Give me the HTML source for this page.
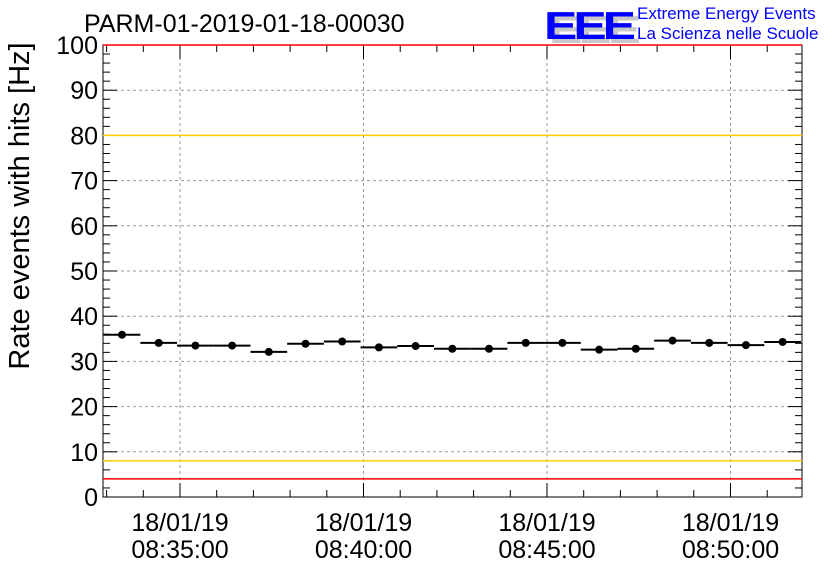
<!DOCTYPE html>
<html><head><meta charset="utf-8"><style>
body{margin:0;background:#fff;}
svg{display:block;font-family:"Liberation Sans",sans-serif;}
</style></head><body>
<svg id="c" width="836" height="572">
<text x="84" y="32" font-size="25">PARM-01-2019-01-18-00030</text>
<g>
<text x="0" y="0" font-size="50" font-weight="bold" fill="#c8c8c8" letter-spacing="-4" transform="translate(549,43) scale(1,0.78)">EEE</text>
<text x="0" y="0" font-size="50" font-weight="bold" fill="#0000ff" letter-spacing="-4" transform="translate(544,39) scale(1,0.78)">EEE</text>
</g>
<text x="637" y="19" font-size="17" fill="#0000ff">Extreme Energy Events</text>
<text x="637" y="39" font-size="17" fill="#0000ff">La Scienza nelle Scuole</text>
<text transform="translate(29,206) rotate(-90)" text-anchor="middle" font-size="29">Rate events with hits [Hz]</text>
<g id="grid"></g><g id="axes"></g><g id="marks"></g>
</svg>
<script>
const yTicks=[0,10,20,30,40,50,60,70,80,90,100];
const xTickMinutes=[0,5,10,15];
const xTickLabels=["08:35:00","08:40:00","08:45:00","08:50:00"];
const xTickDate="18/01/19";
const binStartMin=[-2.08,-1.08,-0.08,0.92,1.92,2.92,3.92,4.92,5.92,6.92,7.92,8.92,9.92,10.92,11.92,12.92,13.92,14.92,15.92];
const rates=[35.9,34.1,33.5,33.5,32.1,33.9,34.4,33.1,33.4,32.8,32.8,34.1,34.1,32.6,32.8,34.6,34.1,33.6,34.3];
const redLines=[100,4];
const yellowLines=[80,8];
const L=103,R=802,T=45,B=497;
const X=m=>180+m*36.7;
const Y=v=>B-(B-T)*v/100;
const NS="http://www.w3.org/2000/svg";
function mk(p,tag,a){const e=document.createElementNS(NS,tag);for(const k in a)e.setAttribute(k,a[k]);p.appendChild(e);return e;}
const grid=document.getElementById('grid'),axes=document.getElementById('axes'),marks=document.getElementById('marks');
yTicks.forEach(v=>{if(v>0&&v<100){const l=mk(grid,'line',{x1:L,x2:R,y1:Y(v),y2:Y(v),stroke:'#999','stroke-dasharray':'3,3'});

}
const t=mk(axes,'text',{x:L-5,y:Y(v)+9,'text-anchor':'end','font-size':25});t.textContent=v;


[L,R].forEach(x0=>{mk(axes,'line',{x1:x0,x2:x0===L?x0+14:x0-14,y1:Y(v),y2:Y(v),stroke:'#000'});});
if(v<100)for(let k=1;k<5;k++){const yy=Y(v+2*k);[L,R].forEach(x0=>mk(axes,'line',{x1:x0,x2:x0===L?x0+7:x0-7,y1:yy,y2:yy,stroke:'#000'}));}
});
xTickMinutes.forEach((m,i)=>{const x=X(m);
const g=mk(grid,'line',{x1:x,x2:x,y1:T,y2:B,stroke:'#999','stroke-dasharray':'3,3'});


const t1=mk(axes,'text',{x:x,y:531,'text-anchor':'middle','font-size':25});t1.textContent=xTickDate;


const t2=mk(axes,'text',{x:x,y:558,'text-anchor':'middle','font-size':25});t2.textContent=xTickLabels[i];

});
for(let m=-2;m<=16;m++){const x=X(m);if(x<L||x>R)continue;const len=(m%5===0)?14:7;
mk(axes,'line',{x1:x,x2:x,y1:B,y2:B-len,stroke:'#000'});mk(axes,'line',{x1:x,x2:x,y1:T,y2:T+len,stroke:'#000'});}
const f=mk(axes,'rect',{x:L,y:T,width:R-L,height:B-T,fill:'none',stroke:'#000'});


redLines.forEach(v=>{const l=mk(marks,'line',{x1:L,x2:R,y1:Y(v),y2:Y(v),stroke:'#ff0000','stroke-width':1.5});

});
yellowLines.forEach(v=>{const l=mk(marks,'line',{x1:L,x2:R,y1:Y(v),y2:Y(v),stroke:'#ffcc00','stroke-width':1.5});

});
rates.forEach((v,i)=>{const x0=Math.max(L,X(binStartMin[i])),x1=Math.min(R,X(binStartMin[i]+1));
const bar=mk(marks,'line',{x1:x0,x2:x1,y1:Y(v),y2:Y(v),stroke:'#000','stroke-width':2});


const c=mk(marks,'circle',{cx:X(binStartMin[i]+0.5),cy:Y(v),r:4,fill:'#000'});

});
</script>
</body></html>
